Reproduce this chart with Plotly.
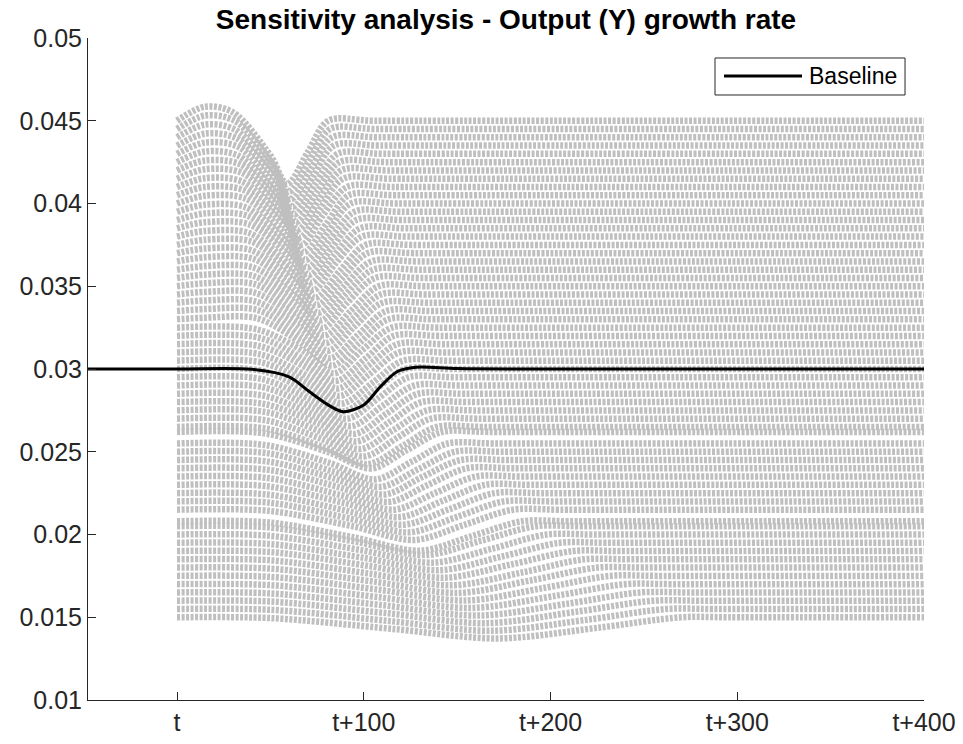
import plotly.graph_objects as go

# ---- gray sensitivity runs: key points of each run ----
levels = [0.0150, 0.0155, 0.0160, 0.0165, 0.0170, 0.0175, 0.0180, 0.0185, 0.0190, 0.0195,
          0.0200, 0.0205, 0.0208, 0.0215, 0.0220, 0.0225, 0.0230, 0.0235, 0.0240, 0.0245,
          0.0250, 0.0255, 0.0262, 0.0265, 0.0270, 0.0275, 0.0280, 0.0285, 0.0290, 0.0295,
          0.0300, 0.0305, 0.0310, 0.0315, 0.0320, 0.0325, 0.0330, 0.0335, 0.0340, 0.0345,
          0.0350, 0.0355, 0.0360, 0.0365, 0.0370, 0.0375, 0.0380, 0.0385, 0.0390, 0.0395,
          0.0400, 0.0405, 0.0410, 0.0415, 0.0420, 0.0425, 0.0430, 0.0435, 0.0440, 0.0445,
          0.0450]

hump_y = [None] * 36 + [
          0.03310, 0.03362, 0.03414, 0.03466,
          0.03518, 0.03570, 0.03622, 0.03675, 0.03728, 0.03781, 0.03834, 0.03887, 0.03940, 0.03993,
          0.04047, 0.04100, 0.04153, 0.04207, 0.04260, 0.04314, 0.04368, 0.04422, 0.04477, 0.04531,
          0.04585]

shoulder_x = [50, 50, 50, 50, 50, 50, 50, 50, 50, 49,
              49, 49, 49, 49, 49, 48, 48, 48, 48, 48,
              48, 47, 47, 47, 47, 47, 46, 46, 46, 45,
              45, 45, 44, 44, 44, 43, 43, 43, 42, 42,
              42, 41, 41, 41, 40, 40, 39, 39, 38, 37,
              37, 36, 35, 35, 34, 33, 33, 32, 31, 31,
              30]
shoulder_y = [0.01495, 0.01545, 0.01595, 0.01644, 0.01694, 0.01744, 0.01794, 0.01844, 0.01894, 0.01943,
              0.01993, 0.02043, 0.02073, 0.02143, 0.02193, 0.02242, 0.02292, 0.02342, 0.02392, 0.02442,
              0.02492, 0.02541, 0.02611, 0.02641, 0.02691, 0.02741, 0.02790, 0.02840, 0.02890, 0.02940,
              0.02990, 0.03040, 0.03090, 0.03139, 0.03189, 0.03239, 0.03306, 0.03357, 0.03408, 0.03460,
              0.03511, 0.03562, 0.03613, 0.03665, 0.03717, 0.03769, 0.03820, 0.03872, 0.03924, 0.03976,
              0.04028, 0.04080, 0.04132, 0.04184, 0.04236, 0.04288, 0.04341, 0.04393, 0.04446, 0.04499,
              0.04551]
half_down_x = [115, 113, 112, 110, 108, 107, 105, 103, 102, 100,
               98, 97, 95, 94, 92, 90, 89, 87, 86, 85,
               83, 82, 81, 79, 78, 77, 76, 74, 73, 72,
               71, 71, 70, 70, 69, 69, 68, 67, 67, 66,
               65, 65, 64, 63, 63, 62, 61, 61, 60, 59,
               58, 58, 57, 56, 55, 54, 53, 53, 52, 51,
               50]
half_down_y = [0.01430, 0.01478, 0.01525, 0.01573, 0.01621, 0.01668, 0.01716, 0.01764, 0.01811, 0.01859,
               0.01907, 0.01954, 0.01982, 0.02050, 0.02097, 0.02145, 0.02192, 0.02240, 0.02288, 0.02335,
               0.02383, 0.02431, 0.02498, 0.02526, 0.02574, 0.02621, 0.02669, 0.02717, 0.02764, 0.02812,
               0.02860, 0.02907, 0.02955, 0.03003, 0.03050, 0.03098, 0.03146, 0.03193, 0.03241, 0.03289,
               0.03336, 0.03384, 0.03432, 0.03479, 0.03527, 0.03575, 0.03622, 0.03670, 0.03718, 0.03765,
               0.03813, 0.03861, 0.03908, 0.03956, 0.04004, 0.04051, 0.04099, 0.04147, 0.04194, 0.04242,
               0.04290]
trough_x = [172, 168, 165, 161, 157, 154, 150, 147, 143, 140,
            137, 133, 130, 127, 124, 121, 119, 116, 113, 111,
            109, 106, 104, 102, 100, 98, 96, 95, 93, 91,
            89, 88, 87, 86, 85, 84, 83, 82, 81, 80,
            79, 78, 77, 76, 75, 74, 73, 72, 71, 70,
            69, 68, 67, 66, 65, 64, 63, 62, 61, 60,
            59]
trough_y = [0.01372, 0.01418, 0.01464, 0.01510, 0.01556, 0.01601, 0.01647, 0.01693, 0.01739, 0.01784,
            0.01830, 0.01876, 0.01902, 0.01967, 0.02013, 0.02059, 0.02105, 0.02150, 0.02196, 0.02242,
            0.02288, 0.02333, 0.02399, 0.02425, 0.02471, 0.02516, 0.02562, 0.02608, 0.02654, 0.02699,
            0.02745, 0.02791, 0.02837, 0.02882, 0.02928, 0.02974, 0.03020, 0.03065, 0.03111, 0.03157,
            0.03203, 0.03248, 0.03294, 0.03340, 0.03386, 0.03431, 0.03477, 0.03523, 0.03569, 0.03614,
            0.03660, 0.03706, 0.03752, 0.03797, 0.03843, 0.03889, 0.03935, 0.03980, 0.04026, 0.04072,
            0.04118]
half_up_x = [225, 219, 213, 208, 202, 196, 190, 185, 179, 174,
             169, 163, 158, 154, 150, 146, 142, 138, 134, 131,
             129, 126, 123, 121, 118, 116, 114, 112, 110, 108,
             106, 105, 103, 102, 101, 99, 98, 97, 95, 94,
             93, 91, 90, 89, 88, 87, 85, 84, 83, 82,
             81, 80, 78, 77, 76, 75, 74, 73, 72, 71,
             70]
half_up_y = [0.01436, 0.01484, 0.01532, 0.01580, 0.01628, 0.01676, 0.01724, 0.01771, 0.01819, 0.01867,
             0.01915, 0.01963, 0.01991, 0.02059, 0.02107, 0.02154, 0.02202, 0.02250, 0.02298, 0.02346,
             0.02394, 0.02442, 0.02510, 0.02537, 0.02585, 0.02633, 0.02681, 0.02729, 0.02777, 0.02825,
             0.02873, 0.02920, 0.02968, 0.03016, 0.03064, 0.03112, 0.03160, 0.03208, 0.03256, 0.03303,
             0.03351, 0.03399, 0.03447, 0.03495, 0.03543, 0.03591, 0.03639, 0.03686, 0.03734, 0.03782,
             0.03830, 0.03878, 0.03926, 0.03974, 0.04022, 0.04069, 0.04117, 0.04165, 0.04213, 0.04261,
             0.04309]
recover_x = [270, 262, 255, 248, 240, 232, 225, 218, 212, 205,
             198, 192, 185, 180, 175, 170, 165, 160, 155, 152,
             149, 145, 142, 139, 136, 134, 131, 129, 127, 124,
             122, 121, 119, 118, 116, 115, 113, 112, 110, 109,
             108, 106, 105, 104, 102, 101, 99, 98, 96, 95,
             93, 92, 91, 89, 88, 87, 86, 84, 83, 82,
             81]
settled_x = [295, 287, 280, 273, 265, 257, 250, 243, 237, 230,
             223, 217, 210, 205, 200, 195, 190, 185, 180, 177,
             174, 170, 167, 164, 161, 159, 156, 154, 152, 149,
             147, 146, 144, 143, 141, 140, 138, 137, 135, 134,
             133, 131, 130, 129, 127, 126, 124, 123, 121, 120,
             118, 117, 116, 114, 113, 112, 111, 109, 108, 107,
             106]
run_start_x = 0
hump_x = 15
run_end_x = 400

# ---- baseline ----
baseline_name = "Baseline"
baseline_x = [-50, 0, 40, 60, 71, 82, 89, 100, 109, 118, 128, 150, 200, 400]
baseline_y = [0.03, 0.03, 0.02998, 0.02953, 0.02862, 0.02776, 0.02742, 0.02783,
              0.02894, 0.02985, 0.03011, 0.03003, 0.03, 0.03]

# ---- axes ----
title_text = "Sensitivity analysis - Output (Y) growth rate"
x_tick_vals = [0, 100, 200, 300, 400]
x_tick_text = ["t", "t+100", "t+200", "t+300", "t+400"]
y_tick_vals = [0.01, 0.015, 0.02, 0.025, 0.03, 0.035, 0.04, 0.045, 0.05]
y_tick_text = ["0.01", "0.015", "0.02", "0.025", "0.03", "0.035", "0.04", "0.045", "0.05"]

GRAY = "#BFBFBF"
AX = "#262626"
FONT = "Liberation Sans, Arial, sans-serif"

fig = go.Figure()
for i, lev in enumerate(levels):
    xs = [run_start_x]
    ys = [lev]
    if hump_y[i] is not None:
        xs.append(hump_x)
        ys.append(hump_y[i])
    xs += [shoulder_x[i], half_down_x[i], trough_x[i], half_up_x[i], recover_x[i],
           settled_x[i], run_end_x]
    ys += [shoulder_y[i], half_down_y[i], trough_y[i], half_up_y[i], lev, lev, lev]
    fig.add_trace(go.Scatter(
        x=xs, y=ys, mode="lines",
        line=dict(color=GRAY, width=6.5, dash="3px,1.5px", shape="spline", smoothing=0.9),
        showlegend=False, hoverinfo="skip"))

fig.add_trace(go.Scatter(
    x=baseline_x, y=baseline_y, mode="lines", name=baseline_name,
    line=dict(color="black", width=3, shape="spline", smoothing=0.9),
    showlegend=False, hoverinfo="skip"))

# MATLAB-style legend box (long line sample), placed in axes-fraction coordinates
fig.add_shape(type="rect", xref="paper", yref="paper", x0=0.75, x1=0.9773, y0=0.9139, y1=0.9698,
              line=dict(color=AX, width=1), fillcolor="white", layer="above")
fig.add_shape(type="line", xref="paper", yref="paper", x0=0.7608, x1=0.8541, y0=0.9426, y1=0.9426,
              line=dict(color="black", width=3), layer="above")
fig.add_annotation(xref="paper", yref="paper", x=0.8595, y=0.9426, xanchor="left", yanchor="middle",
                   text=baseline_name, showarrow=False,
                   font=dict(family=FONT, size=23, color="black"))

fig.update_layout(
    width=963, height=744,
    margin=dict(l=88, r=39, t=38, b=44),
    paper_bgcolor="white", plot_bgcolor="white",
    font=dict(family=FONT, color=AX, size=25),
    title=dict(text="<b>" + title_text + "</b>",
               x=0.5, xref="paper", xanchor="center",
               y=1 - 19 / 744, yref="container", yanchor="middle",
               font=dict(family=FONT, size=28, color="black")),
    showlegend=False,
    hovermode=False,
    xaxis=dict(range=[-47.66, 400], tickvals=x_tick_vals, ticktext=x_tick_text,
               ticks="inside", ticklen=8, tickcolor=AX, showline=True, linecolor=AX,
               linewidth=1, showgrid=False, zeroline=False, mirror=False, automargin=False,
               tickfont=dict(size=25, color=AX)),
    yaxis=dict(range=[0.01, 0.05], tickvals=y_tick_vals, ticktext=y_tick_text,
               ticks="inside", ticklen=8, tickcolor=AX, showline=True, linecolor=AX,
               linewidth=1, showgrid=False, zeroline=False, mirror=False, automargin=False,
               tickfont=dict(size=25, color=AX)),
)

fig.write_html("out.html",
               config={"displayModeBar": False, "staticPlot": True},
               post_script="document.body.style.margin='0';document.body.style.overflow='hidden';")
